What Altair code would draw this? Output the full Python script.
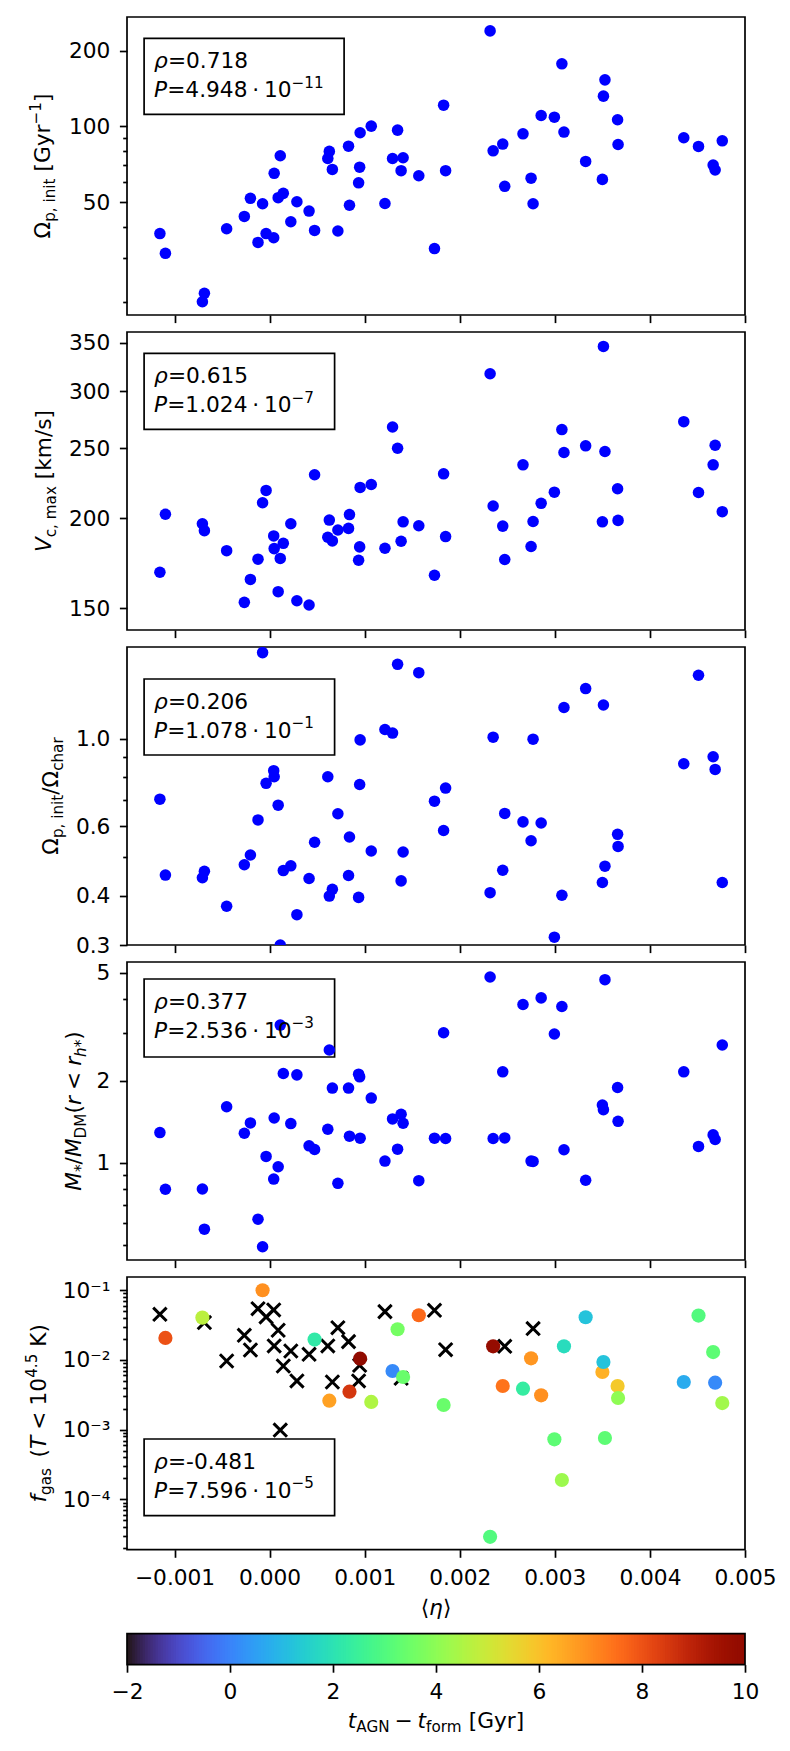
import altair as alt
import numpy as np
import pandas as pd

# ---------------- data ----------------
eta = [-0.001154, -0.001096, -0.000707, -0.000686, -0.000452, -0.000266, -0.000202, -0.000122,
       -0.000074, -0.000037, 0.000043, 0.000048, 0.000090, 0.000112, 0.000144, 0.000223,
       0.000287, 0.000415, 0.000473, 0.000612, 0.000628, 0.000660, 0.000718, 0.000830,
       0.000840, 0.000936, 0.000947, 0.000952, 0.001069, 0.001213, 0.001293, 0.001346,
       0.001383, 0.001404, 0.001569, 0.001734, 0.001830, 0.001851, 0.002319, 0.002351,
       0.002452, 0.002473, 0.002665, 0.002750, 0.002771, 0.002856, 0.002995, 0.003074,
       0.003096, 0.003324, 0.003500, 0.003511, 0.003527, 0.003660, 0.003665, 0.004356,
       0.004511, 0.004665, 0.004686, 0.004761]

omega_p = [37.5, 31.3, 20.1, 21.7, 39.2, 43.9, 51.8, 34.6, 49.3, 37.5, 36.1, 65.1, 52.1, 76.5,
           54.2, 41.8, 50.2, 46.1, 38.6, 74.6, 79.6, 67.5, 38.4, 83.5, 48.6, 59.7, 68.9, 94.4,
           100.3, 49.4, 74.6, 96.7, 66.7, 75.1, 63.7, 32.7, 121.5, 66.7, 239.9, 80.0, 85.1,
           57.8, 93.5, 62.3, 49.3, 110.6, 108.9, 177.4, 95.0, 72.6, 61.6, 132.0, 153.2, 106.3,
           84.8, 90.2, 83.3, 70.2, 67.1, 87.7]

vc_max = [168.3, 202.5, 196.5, 192.2, 180.3, 152.9, 164.5, 175.5, 210.1, 218.5, 189.0, 181.5,
          158.2, 175.9, 184.6, 196.5, 153.7, 151.6, 229.7, 188.2, 198.8, 186.0, 192.6, 193.6,
          202.3, 174.9, 182.5, 220.6, 222.7, 181.7, 267.5, 250.0, 185.8, 197.7, 195.2, 166.7,
          230.4, 188.6, 317.0, 207.9, 195.0, 175.3, 237.1, 182.7, 197.9, 209.7, 217.3, 265.3,
          246.6, 251.9, 197.7, 345.9, 247.4, 219.7, 198.6, 272.1, 217.1, 237.1, 252.4, 204.2]

omega_ratio = [0.702, 0.451, 0.444, 0.461, 0.376, 0.479, 0.507, 0.622, 1.650, 0.770, 0.829, 0.800,
               0.678, 0.300, 0.463, 0.476, 0.358, 0.442, 0.546, 0.800, 0.399, 0.415, 0.645, 0.450,
               0.563, 0.396, 0.765, 0.992, 0.519, 1.054, 1.032, 1.541, 0.436, 0.516, 1.468, 0.694,
               0.585, 0.749, 0.407, 1.008, 0.464, 0.646, 0.615, 0.551, 0.996, 0.611, 0.314, 0.401,
               1.198, 1.338, 0.432, 1.216, 0.475, 0.572, 0.533, 0.863, 1.446, 0.899, 0.835, 0.432]

mass_ratio = [1.291, 0.799, 0.801, 0.570, 1.607, 1.284, 1.401, 0.620, 0.491, 1.055, 0.871, 1.461,
              0.967, 3.207, 2.128, 1.393, 2.104, 1.154, 1.119, 1.328, 2.597, 1.881, 0.840, 1.881,
              1.252, 2.116, 2.069, 1.231, 1.729, 1.014, 1.449, 1.122, 1.507, 1.397, 0.859, 1.231,
              3.006, 1.228, 4.818, 1.228, 2.159, 1.234, 3.817, 1.014, 1.011, 4.037, 2.973, 3.753,
              1.116, 0.862, 1.630, 1.567, 4.711, 1.891, 1.420, 2.159, 1.148, 1.266, 1.217, 2.710]

f_gas = [0.0452, 0.0207, 0.0405, 0.0344, 0.00967, 0.0226, 0.0139, 0.0545, 0.100, 0.0414, 0.0522,
         0.0159, 0.0267, 0.000989, 0.0082, 0.01346, 0.00500, 0.01206, 0.0196, 0.0159, 0.00261,
         0.00483, 0.0291, 0.01834, 0.00351, 0.00500, 0.00838, 0.01045, 0.00250, 0.0494, 0.00695,
         0.0276, 0.00546, 0.00570, 0.0438, 0.0516, 0.00226, 0.01407, 0.0000291, 0.0157, 0.00423,
         0.0157, 0.00388, 0.01056, 0.0282, 0.00311, 0.000727, 0.000190, 0.0157, 0.0410, 0.00673,
         0.00936, 0.000760, 0.00423, 0.00285, 0.00483, 0.0433, 0.0130, 0.00473, 0.00241]

# t_AGN - t_form [Gyr]; None = galaxy without AGN (black cross)
t_agn = [None, 8.0, 4.7, None, None, None, None, None, 6.9, None, None, None, None, None, None,
         None, None, None, 2.2, None, 6.6, None, None, None, 8.5, None, None, 10.0, 4.5, None,
         0.1, 3.6, None, 3.4, 7.6, None, 3.4, None, 3.0, 9.8, 7.4, None, 2.3, 6.8, None, 6.9,
         3.2, 4.2, 1.8, 1.2, 6.3, 1.2, 3.2, 5.8, 4.0, 0.7, 3.0, 3.2, 0.1, 4.3]

rho_text = ["0.718", "0.615", "0.206", "0.377", "-0.481"]
p_mant = ["4.948", "1.024", "1.078", "2.536", "7.596"]
p_exp = ["−11", "−7", "−1", "−3", "−5"]

x_ticks = [-0.001, 0.0, 0.001, 0.002, 0.003, 0.004, 0.005]
cbar_ticks = [-2, 0, 2, 4, 6, 8, 10]

# ---------------- style / layout ----------------
FONT = "DejaVu Sans"
FS = 21.7
SUB = 15.2
PW = 618
PH = [298, 298, 298, 298, 272.7]
CBH = 97.6
CB_TOP = 66.6
TICK = 7.6
MINOR = 4.3
LW = 1.7

df = pd.DataFrame({"eta": eta, "omega_p": omega_p, "vc_max": vc_max,
                   "omega_ratio": omega_ratio, "mass_ratio": mass_ratio,
                   "f_gas": f_gas, "t_agn": pd.array(t_agn, dtype="Float64")})
df["t_agn"] = df["t_agn"].astype(float)
df_c = df[df["t_agn"].notna()].reset_index(drop=True)
df_x = df[df["t_agn"].isna()].drop(columns=["t_agn"]).reset_index(drop=True)

WID = {' ': 0.318, '(': 0.390, ')': 0.390, '*': 0.500, ',': 0.318, '-': 0.361, '.': 0.318,
       '/': 0.337, '<': 0.838, '=': 0.838, '[': 0.390, ']': 0.390,
       'A': 0.684, 'D': 0.770, 'G': 0.775, 'K': 0.656, 'M': 0.863, 'N': 0.748, 'P': 0.603,
       'T': 0.611, 'V': 0.684, 'a': 0.613, 'c': 0.550, 'f': 0.352, 'g': 0.635, 'h': 0.634,
       'i': 0.278, 'k': 0.579, 'm': 0.974, 'n': 0.634, 'o': 0.612, 'p': 0.635, 'r': 0.411,
       's': 0.521, 't': 0.392, 'x': 0.592, 'y': 0.592, 'Ω': 0.764, 'ρ': 0.635, 'η': 0.634,
       '−': 0.838, '·': 0.318, '⟨': 0.390, '⟩': 0.390}
for d in "0123456789":
    WID[d] = 0.636


def one():
    return pd.DataFrame({"k": [0]})


def S(t, it=False, lv=0, g=0.0):
    # leading / trailing blanks would be collapsed by SVG: turn them into explicit gaps
    fs_ratio = 1.0 if lv == 0 else SUB / FS
    lead = len(t) - len(t.lstrip(" "))
    trail = len(t) - len(t.rstrip(" "))
    return {"t": t.strip(" "), "it": it, "lv": lv,
            "g": g + lead * WID[" "] * fs_ratio, "ga": trail * WID[" "] * fs_ratio}


def seg_marks(segs, ax, ay, angle=0, center=True):
    widths = []
    for s in segs:
        fs = FS if s["lv"] == 0 else SUB
        widths.append(sum(WID.get(c, 0.6) for c in s["t"]) * fs + (s["g"] + s["ga"]) * FS)
    total = sum(widths)
    off = -total / 2 if center else 0.0
    out = []
    for s, w in zip(segs, widths):
        fs = FS if s["lv"] == 0 else SUB
        off += s["g"] * FS
        shift = {0: 0.0, -1: 0.22 * FS, 1: -0.42 * FS}[s["lv"]]
        if angle == 0:
            x, y = ax + off, ay + shift
        else:
            x, y = ax + shift, ay - off
        out.append(
            alt.Chart(one()).mark_text(
                text=s["t"], align="left", baseline="alphabetic", angle=angle, font=FONT,
                fontSize=fs, fontStyle="italic" if s["it"] else "normal", color="black"
            ).encode(x=alt.value(x), y=alt.value(y))
        )
        off += w - s["g"] * FS
    return out


def text_box(i, bx, by, bw, bh):
    rect = alt.Chart(one()).mark_rect(fill="white", stroke="black", strokeWidth=LW).encode(
        x=alt.value(bx), x2=alt.value(bx + bw), y=alt.value(by), y2=alt.value(by + bh))
    l1 = seg_marks([S("ρ", it=True), S("=" + rho_text[i])], bx + 10, by + 29.8, center=False)
    l2 = seg_marks([S("P", it=True), S("=" + p_mant[i]), S("·", g=0.22), S("10", g=0.22),
                    S(p_exp[i], lv=1)], bx + 10, by + 58.5, center=False)
    return rect, l1 + l2


x_scale = alt.Scale(domain=[-0.0015, 0.005], nice=False, zero=False)
color_scale = alt.Scale(scheme="turbo", domain=[-2, 10], nice=False)


def x_axis(labels):
    return alt.Axis(values=x_ticks, format=".3f", labels=labels, tickSize=TICK, labelPadding=10,
                    labelFlush=False, labelOverlap=False, domain=False, grid=False, title=None)


def y_major(values, fmt=None, expr=None):
    kw = dict(values=values, tickSize=TICK, labelPadding=9.5, orient="left", labelOverlap=False,
              labelFlush=False, domain=False, grid=False, title=None)
    if fmt:
        kw["format"] = fmt
    if expr:
        kw["labelExpr"] = expr
    return alt.Axis(**kw)


def y_minor(values):
    return alt.Axis(values=values, labels=False, tickSize=MINOR, orient="left", domain=False,
                    grid=False, title=None)


panels = [
    dict(field="omega_p", domain=[17.8, 272.4], major=[50, 100, 200],
         minor=[20, 30, 40, 60, 70, 80, 90], fmt="d",
         box=(17.1, 21.3, 200.0, 76.0), lab_x=-77.0,
         label=[S("Ω"), S("p, init", lv=-1), S(" [Gyr"), S("−1", lv=1), S("]")]),
    dict(field="vc_max", domain=[140.0, 362.2], major=[150, 200, 250, 300, 350], minor=[],
         fmt="d", box=(17.1, 21.3, 190.5, 76.0), lab_x=-76.0,
         label=[S("V", it=True), S("c, max", lv=-1), S(" [km/s]")]),
    dict(field="omega_ratio", domain=[0.3, 1.705], major=[0.3, 0.4, 0.6, 1.0],
         minor=[0.5, 0.7, 0.8, 0.9], fmt=".1f", box=(17.1, 32.0, 190.5, 76.0), lab_x=-69.0,
         label=[S("Ω"), S("p, init", lv=-1), S("/Ω"), S("char", lv=-1)]),
    dict(field="mass_ratio", domain=[0.439, 5.47], major=[1, 2, 5],
         minor=[0.5, 0.6, 0.7, 0.8, 0.9, 3, 4], fmt="d", box=(17.1, 17.0, 190.5, 78.0),
         lab_x=-46.0,
         label=[S("M", it=True), S("*", lv=-1), S("/"), S("M", it=True), S("DM", lv=-1), S("("),
                S("r", it=True), S("<", g=0.28), S("r", it=True, g=0.28), S("h", it=True, lv=-1),
                S("*", lv=-1), S(")")]),
]

charts = []
for i, p in enumerate(panels):
    bx, by, bw, bh = p["box"]
    rect, texts = text_box(i, bx, by, bw, bh)
    yscale = alt.Scale(type="log", domain=p["domain"], nice=False)
    pts = alt.Chart(df).mark_circle(size=133, color="#0000ff", opacity=1, clip=True).encode(
        x=alt.X("eta:Q", scale=x_scale, axis=x_axis(False)),
        y=alt.Y(p["field"] + ":Q", scale=yscale, axis=y_major(p["major"], fmt=p["fmt"])))
    layers = [rect, pts]
    if p["minor"]:
        layers.append(alt.Chart(df).mark_point(opacity=0).encode(
            y=alt.Y(p["field"] + ":Q", scale=yscale, axis=y_minor(p["minor"]))))
    layers += texts
    layers += seg_marks(p["label"], p["lab_x"], PH[i] / 2, angle=270)
    if i == 0:
        layers.append(alt.Chart(one()).mark_rule(strokeOpacity=0).encode(
            x=alt.value(-117.6), x2=alt.value(-117.6), y=alt.value(-7.7), y2=alt.value(-7.7)))
    charts.append(alt.layer(*layers).resolve_axis(y="independent")
                  .properties(width=PW, height=PH[i]))

# ---- panel 5: gas fraction ----
fg_scale = alt.Scale(type="log", domain=[1.9e-5, 0.155], nice=False)
fg_minor = [m * 10.0 ** e for e in range(-5, -1) for m in range(2, 10)]
fg_expr = ("datum.value < 0.0005 ? '10⁻⁴' : datum.value < 0.005 ? '10⁻³' : "
           "datum.value < 0.05 ? '10⁻²' : '10⁻¹'")
XPATH = "M-1,-1L1,1M-1,1L1,-1"
rect5, texts5 = text_box(4, 17.1, 162.0, 190.5, 76.6)
crosses = alt.Chart(df_x).mark_point(shape=XPATH, size=180, filled=False, color="black",
                                     strokeWidth=3, opacity=1, clip=True).encode(
    x=alt.X("eta:Q", scale=x_scale, axis=x_axis(True)),
    y=alt.Y("f_gas:Q", scale=fg_scale, axis=y_major([1e-4, 1e-3, 1e-2, 1e-1], expr=fg_expr)))
circles = alt.Chart(df_c).mark_circle(size=201, opacity=1, clip=True).encode(
    x=alt.X("eta:Q", scale=x_scale, axis=x_axis(True)),
    y=alt.Y("f_gas:Q", scale=fg_scale, axis=None),
    color=alt.Color("t_agn:Q", scale=color_scale, legend=None))
minor5 = alt.Chart(df).mark_point(opacity=0).encode(
    y=alt.Y("f_gas:Q", scale=fg_scale, axis=y_minor(fg_minor)))
layers5 = [rect5, crosses, circles, minor5] + texts5
layers5 += seg_marks([S("f", it=True), S("gas", lv=-1), S(" (", g=0.17), S("T", it=True),
                      S("<", g=0.28), S("10", g=0.28), S("4.5", lv=1), S(" K)")],
                     -81.0, PH[4] / 2, angle=270)
layers5 += seg_marks([S("⟨"), S("η", it=True), S("⟩")], PW / 2, 338.2)
charts.append(alt.layer(*layers5).resolve_axis(y="independent")
              .properties(width=PW, height=PH[4]))

# ---- colour bar ----
cb_min, cb_max = cbar_ticks[0], cbar_ticks[-1]
cb_v = np.linspace(cb_min, cb_max, 241)[:-1]
cb_step = (cb_max - cb_min) / 240
df_cb = pd.DataFrame({"v": cb_v, "v2": np.minimum(cb_v + 1.6 * cb_step, cb_max)})
cb_scale = alt.Scale(domain=[cb_min, cb_max], nice=False, zero=False)
cb_rects = alt.Chart(df_cb).mark_rect().encode(
    x=alt.X("v:Q", scale=cb_scale,
            axis=alt.Axis(values=cbar_ticks, format="d", tickSize=TICK, labelPadding=9.5,
                          labelFlush=False, labelOverlap=False, domain=False, grid=False,
                          title=None)),
    x2="v2:Q",
    y=alt.value(CB_TOP), y2=alt.value(CBH),
    color=alt.Color("v:Q", scale=color_scale, legend=None))
cb_frame = alt.Chart(one()).mark_rect(fillOpacity=0, stroke="black", strokeWidth=LW).encode(
    x=alt.value(0), x2=alt.value(PW), y=alt.value(CB_TOP), y2=alt.value(CBH))
cb_title = seg_marks([S("t", it=True), S("AGN", lv=-1), S("−", g=0.22), S("t", it=True, g=0.22),
                      S("form", lv=-1), S(" [Gyr]")], PW / 2, 160.6)
cbar = alt.layer(cb_rects, cb_frame, *cb_title).properties(
    width=PW, height=CBH, view=alt.ViewBackground(stroke="transparent"))

chart = alt.vconcat(*charts, cbar, spacing=17, bounds="flush").properties(
    padding=0, background="white"
).configure_view(stroke="black", strokeWidth=LW).configure_axis(
    labelFont=FONT, labelFontSize=FS, labelColor="black", tickColor="black", tickWidth=LW
)

chart.save("out.html", embed_options={"renderer": "svg", "actions": False})
